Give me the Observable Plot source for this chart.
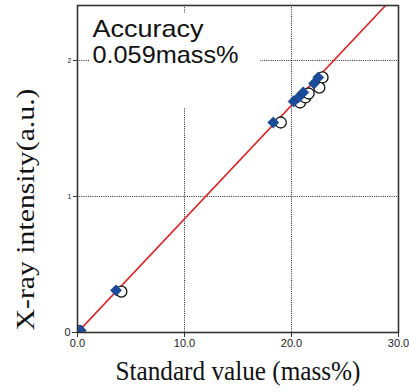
<!DOCTYPE html>
<html>
<head>
<meta charset="utf-8">
<script src="https://cdn.jsdelivr.net/npm/d3@7"></script>
<script src="https://cdn.jsdelivr.net/npm/@observablehq/plot@0.6"></script>
<style>
  html, body { margin: 0; padding: 0; background: #fff; }
  #chart { width: 409px; height: 392px; }
</style>
</head>
<body>
<div id="chart"></div>
<script>
// Measured samples (blue diamonds): standard value vs X-ray intensity
const diamondX = [0.3, 3.6, 18.3, 20.2, 20.65, 21.1, 22.1, 22.5];
const diamondY = [0.015, 0.31, 1.544, 1.699, 1.728, 1.765, 1.831, 1.875];
// Companion open circles
const circleX = [0.1, 4.1, 19.0, 20.8, 21.3, 21.6, 22.6, 22.9];
const circleY = [0.01, 0.30, 1.544, 1.691, 1.728, 1.757, 1.80, 1.875];
// Calibration line
const lineX = [0, 30];
const lineY = [0, 2.505];
// Ticks
const xTicks = [0, 10, 20, 30];
const yTicks = [0, 1, 2];
const annotationLines = ["Accuracy", "0.059mass%"];
const xTitle = "Standard value (mass%)";
const yTitle = "X-ray intensity(a.u.)";

const diamonds = diamondX.map((x, i) => ({x, y: diamondY[i]}));
const circles = circleX.map((x, i) => ({x, y: circleY[i]}));
const calib = lineX.map((x, i) => ({x, y: lineY[i]}));

const sans = "Liberation Sans, Arial, sans-serif";
const serif = "Liberation Serif, Times New Roman, serif";

const chart = Plot.plot({
  width: 409,
  height: 392,
  marginLeft: 77,
  marginRight: 11,
  marginTop: 5,
  marginBottom: 60,
  style: {fontFamily: sans, background: "#fff", color: "#222"},
  x: {domain: [0, 30], ticks: xTicks},
  y: {domain: [0, 2.404], ticks: yTicks},
  marks: [
    Plot.gridX(xTicks.slice(1, 3), {stroke: "#222", strokeOpacity: 1, strokeDasharray: "1,1.2", strokeWidth: 1}),
    Plot.gridY(yTicks.slice(1), {stroke: "#222", strokeOpacity: 1, strokeDasharray: "1,1.2", strokeWidth: 1}),
    // white backing behind the annotation
    Plot.rect([0], {x1: 1.2, x2: 17.1, y1: 1.647, y2: 2.346, fill: "#fff"}),
    Plot.line(calib, {x: "x", y: "y", stroke: "#d8262b", strokeWidth: 1.6, clip: true}),
    Plot.dot(circles, {x: "x", y: "y", r: 5.5, fill: "#fff", stroke: "#111", strokeWidth: 1.3, clip: true}),
    Plot.dot(diamonds, {x: "x", y: "y", r: 5, symbol: "diamond2", fill: "#1a4c9c", stroke: "#12336e", strokeWidth: 0.6, clip: true}),
    Plot.frame({stroke: "#333", strokeWidth: 1.6}),
    Plot.axisX({ticks: xTicks, tickFormat: d => d.toFixed(1), tickSize: 5, tickPadding: 2, fontSize: 11, label: null, stroke: "#333"}),
    Plot.axisY({ticks: [0], tickFormat: d => String(d), tickSize: 5, tickPadding: 2, fontSize: 11, label: null, stroke: "#333"}),
    Plot.axisY({ticks: [1, 2], tickFormat: d => String(d), tickSize: 4, tickPadding: 2, fontSize: 7, label: null, stroke: "#333"}),
    Plot.text([annotationLines.join("\n")], {frameAnchor: "top-left", dx: 15, dy: 13, textAnchor: "start", lineAnchor: "top", fontSize: 24, lineHeight: 1.08, fill: "#111", fontFamily: sans}),
    Plot.text([xTitle], {frameAnchor: "bottom", lineAnchor: "bottom", dy: 47, fontSize: 28, fontFamily: serif, fill: "#111"}),
    Plot.text([yTitle], {frameAnchor: "bottom-left", textAnchor: "start", lineAnchor: "bottom", rotate: -90, dx: -44, dy: -2, fontSize: 25, fontFamily: serif, fill: "#111"})
  ]
});
document.getElementById("chart").appendChild(chart);

// Match the reference's stretched lettering by fixing text lengths
const lengths = new Map([[xTitle, 245], [yTitle, 242], ["Accuracy", 111], ["0.059mass%", 146]]);
d3.select(chart).selectAll("text, tspan").each(function () {
  const hasTspan = this.tagName === "text" && this.querySelector("tspan");
  if (hasTspan) return;
  const L = lengths.get(this.textContent);
  if (L) {
    this.setAttribute("textLength", L);
    this.setAttribute("lengthAdjust", "spacingAndGlyphs");
  }
});
</script>
</body>
</html>
